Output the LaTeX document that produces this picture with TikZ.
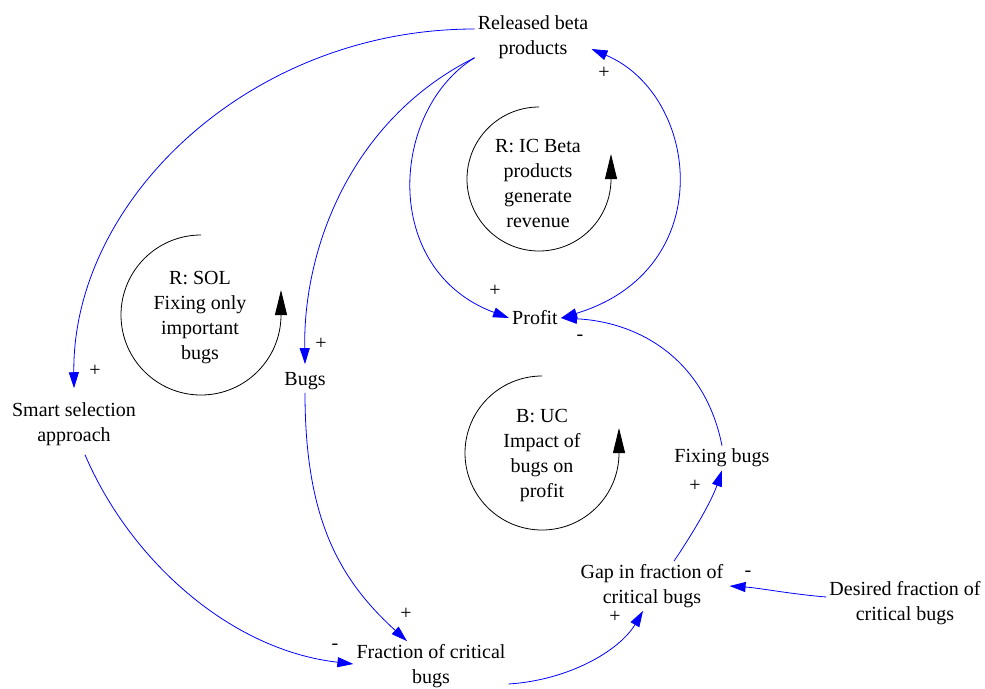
\documentclass[tikz,border=0pt]{standalone}
\usepackage{fontspec}
\setmainfont{Liberation Serif}
\usetikzlibrary{arrows.meta}

\begin{document}
\begin{tikzpicture}[x=1pt,y=1pt,
    cldvar/.style={align=center,inner sep=3pt,font=\fontsize{20}{25}\selectfont},
    polarity/.style={inner sep=0pt,font=\fontsize{20}{25}\selectfont},
    causal/.style={draw=blue,line width=0.8pt,-{Triangle[length=16pt,width=10pt,fill=blue]}},
    causal both/.style={draw=blue,line width=0.8pt,{Triangle[length=16pt,width=10pt,fill=blue]}-{Triangle[length=16pt,width=10pt,fill=blue]}},
    loopmark/.style={draw=black,line width=0.8pt,-{Triangle[length=25pt,width=12pt,fill=black]}}]
                \useasboundingbox (0,0) rectangle (985,-688);
                % variables
                \node[cldvar](Released)at(533, -37){Released beta\\products};
                \node[cldvar](Profit)at(535, -318){Profit};
                \node[cldvar](Bugs)at(305, -381){Bugs};
                \node[cldvar](Smart)at(74, -424){Smart selection\\approach};
                \node[cldvar](Fraction)at(431, -666){Fraction of critical\\bugs};
                \node[cldvar](Gap)at(652, -586){Gap in fraction of\\critical bugs};
                \node[cldvar](Desired)at(905, -603){Desired fraction of\\critical bugs};
                \node[cldvar](Fixing)at(722, -458){Fixing bugs};
                % loop names
                \node[cldvar](IC)at(538, -183){R: IC Beta\\products\\generate\\revenue};
                \node[cldvar](SOL)at(200, -318){R: SOL\\Fixing only\\important\\bugs};
                \node[cldvar](UC)at(542, -456){B: UC\\Impact of\\bugs on\\profit};
                \draw[loopmark](539, -107) arc[start angle=90, end angle=360, radius=72pt] -- ++(0, 25pt);
                \draw[loopmark](201, -235) arc[start angle=90, end angle=360, radius=80pt] -- ++(0, 25pt);
                \draw[loopmark](542, -376) arc[start angle=90, end angle=360, radius=77pt] -- ++(0, 25pt);
                % links
                \draw[causal]([yshift=8pt]Released.west) .. controls (250, -29) and (72, -200) .. ([yshift=11pt]Smart.north)
                    node[polarity] at (95, -371) {+};
                \draw[causal]([yshift=4pt]Released.south west) .. controls (350, -120) and (303, -250) .. ([yshift=5pt]Bugs.north)
                    node[polarity] at (321, -344) {+};
                \draw[causal]([yshift=4pt]Released.south west) .. controls (390, -110) and (380, -270) .. (Profit.west)
                    node[polarity] at (495, -291) {+};
                \draw[causal both](Profit.east) .. controls (720, -270) and (700, -95) .. ([yshift=-12pt]Released.east)
                    node[polarity] at (604, -73) {+};
                \draw[causal](Fixing.north) .. controls (705, -360) and (640, -322) .. (Profit.east)
                    node[polarity] at (580, -338) {-};
                \draw[causal]([xshift=22pt]Gap.north) .. controls (695, -530) and (712, -500) .. (Fixing.south)
                    node[polarity] at (695, -486) {+};
                \draw[causal]([yshift=6pt]Desired.west) .. controls (790, -594) and (760, -588) .. ([xshift=3pt]Gap.east)
                    node[polarity] at (748, -574) {-};
                \draw[causal]([yshift=-18pt]Fraction.east) .. controls (570, -680) and (620, -650) .. ([xshift=-9pt]Gap.south)
                    node[polarity] at (615, -617) {+};
                \draw[causal](Bugs.south) .. controls (305, -520) and (340, -580) .. ([xshift=-24pt]Fraction.north)
                    node[polarity] at (406, -614) {+};
                \draw[causal]([xshift=11pt,yshift=-6pt]Smart.south) .. controls (130, -560) and (230, -650) .. ([yshift=2pt]Fraction.west)
                    node[polarity] at (335, -647) {-};
\end{tikzpicture}
\end{document}
